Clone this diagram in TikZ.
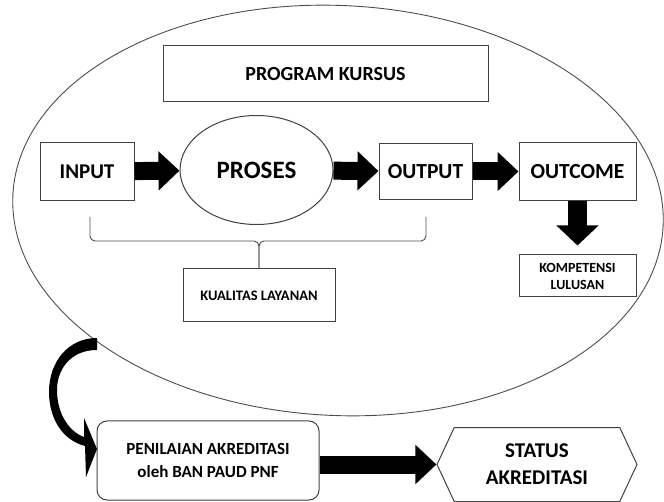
\documentclass[tikz,border=0pt]{standalone}
\usepackage{fontspec}
\setmainfont{Carlito}
\usetikzlibrary{arrows.meta,shapes.geometric,shapes.symbols}

\tikzset{
  box/.style={draw=black!75, line width=1pt, inner sep=0pt, align=center},
  thin line/.style={draw=black!70, line width=0.9pt},
  blockarrow/.style={line width=18pt, -{Triangle[length=21pt,width=38pt]}},
}

\begin{document}
\begin{tikzpicture}[x=1pt,y=1pt,yscale=-1,xscale=1]
\useasboundingbox (0,0) rectangle (664,502);

%Shape: Ellipse [id:outer]
\draw [thin line, rotate around={2.7:(338,210.5)}] (338,210.5) ellipse [x radius=325.5, y radius=205];

% Text Node
\node [box, minimum width=325pt, minimum height=56pt, font=\bfseries\fontsize{20}{24}\selectfont] (program) at (325.5,74) {PROGRAM KURSUS};
% Text Node
\node [box, minimum width=94pt, minimum height=58pt, font=\bfseries\fontsize{21}{25}\selectfont] (input) at (87,171.5) {INPUT};
% Text Node
\node [box, ellipse, minimum width=153pt, minimum height=109pt, font=\bfseries\fontsize{25}{30}\selectfont] (proses) at (256.5,170) {PROSES};
% Text Node
\node [box, minimum width=93pt, minimum height=56pt, font=\bfseries\fontsize{21.5}{25}\selectfont] (output) at (425.5,171.5) {OUTPUT};
% Text Node
\node [box, minimum width=117pt, minimum height=58pt, font=\bfseries\fontsize{21.5}{25}\selectfont] (outcome) at (577.5,171.5) {OUTCOME};
% Text Node
\node [box, minimum width=117pt, minimum height=42pt, font=\bfseries\fontsize{14}{17}\selectfont] (kompetensi) at (577.5,276) {KOMPETENSI\\LULUSAN};
% Text Node
\node [box, minimum width=152pt, minimum height=53pt, font=\bfseries\fontsize{14.5}{17}\selectfont] (kualitas) at (259,295.5) {KUALITAS LAYANAN};
% Text Node
\node [box, rounded corners=10pt, minimum width=222pt, minimum height=79pt, font=\bfseries\fontsize{17}{23}\selectfont] (penilaian) at (208,460.5) {PENILAIAN AKREDITASI\\oleh BAN PAUD PNF};
% Text Node
\node [box, signal, signal to=west and east, signal pointer angle=130, minimum width=200pt, minimum height=74pt, font=\bfseries\fontsize{21}{27}\selectfont] (status) at (537,464.5) {STATUS\\AKREDITASI};

%Block Arrows
\draw [blockarrow] (input) -- (proses);
\draw [blockarrow] (proses) -- (output);
\draw [blockarrow] (output) -- (outcome);
\draw [line width=19pt, -{Triangle[length=20pt,width=41pt]}, shorten >=9pt] (outcome) -- (kompetensi);
\draw [blockarrow] (penilaian.east |- status.west) -- (status.west);

%Brace
\coordinate (bl) at (90,217);
\coordinate (br) at (426,217);
\coordinate (bm) at (259,241);
\draw [thin line, rounded corners=5pt] (bl) |- (bm) -- (kualitas.north);
\draw [thin line, rounded corners=5pt] (br) |- (bm) -- (kualitas.north);

%Curved Arrow
\fill (97,338) -- (97,350) .. controls (70,350) and (57,370) .. (57,390) .. controls (57,415) and (70,432) .. (84,437) -- (84,418) -- (97,449) -- (86,477) -- (85,446) .. controls (62,440) and (49,418) .. (49,392) .. controls (49,362) and (68,338) .. (97,338) -- cycle;

\end{tikzpicture}
\end{document}
